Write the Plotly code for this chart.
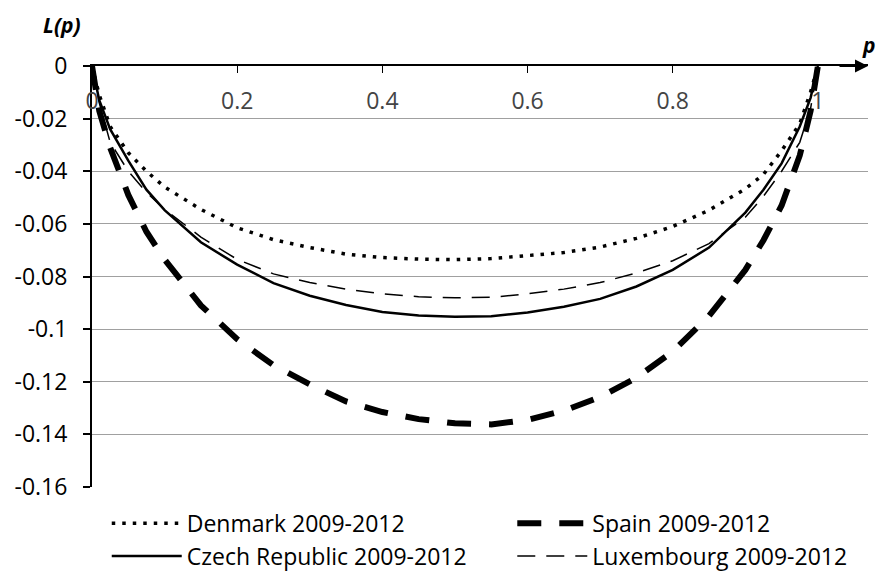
import plotly.graph_objects as go

p = [0, 0.01, 0.025, 0.05, 0.075, 0.1, 0.15, 0.2, 0.25, 0.3, 0.35, 0.4, 0.45, 0.5,
     0.55, 0.6, 0.65, 0.7, 0.75, 0.8, 0.85, 0.9, 0.925, 0.95, 0.975, 0.99, 1]

denmark = [0, -0.011, -0.023, -0.033, -0.040, -0.046, -0.0545, -0.0615, -0.066, -0.069,
           -0.0715, -0.0728, -0.0734, -0.0736, -0.0732, -0.0722, -0.0709, -0.0688, -0.0655,
           -0.061, -0.0548, -0.0467, -0.0412, -0.0322, -0.022, -0.0098, 0]
spain = [0, -0.017, -0.031, -0.049, -0.063, -0.0735, -0.091, -0.1038, -0.1137, -0.121,
         -0.1275, -0.1315, -0.1342, -0.1358, -0.1362, -0.1345, -0.131, -0.1258, -0.1185,
         -0.1085, -0.095, -0.0775, -0.0662, -0.053, -0.034, -0.017, 0]
czech = [0, -0.013, -0.024, -0.036, -0.047, -0.0548, -0.067, -0.0755, -0.0825, -0.0873,
         -0.0908, -0.0935, -0.0948, -0.0953, -0.0951, -0.0937, -0.0915, -0.0885, -0.0838,
         -0.0775, -0.069, -0.0557, -0.047, -0.037, -0.023, -0.012, 0]
luxembourg = [0, -0.014, -0.029, -0.040, -0.048, -0.0545, -0.065, -0.0735, -0.079, -0.0823,
              -0.0848, -0.0866, -0.0877, -0.0881, -0.0879, -0.0866, -0.0848, -0.0823, -0.0787,
              -0.074, -0.0675, -0.0575, -0.0495, -0.040, -0.029, -0.016, 0]

series_names = ["Denmark 2009-2012", "Spain 2009-2012", "Czech Republic 2009-2012",
                "Luxembourg 2009-2012"]

x_tickvals = [0, 0.2, 0.4, 0.6, 0.8, 1]
x_ticktext = ["0", "0.2", "0.4", "0.6", "0.8", "1"]
y_tickvals = [-0.16, -0.14, -0.12, -0.1, -0.08, -0.06, -0.04, -0.02, 0]
y_ticktext = ["-0.16", "-0.14", "-0.12", "-0.1", "-0.08", "-0.06", "-0.04", "-0.02", "0"]

FONT = "Open Sans"
FS = 23

fig = go.Figure()
fig.add_trace(go.Scatter(x=p, y=denmark, mode="lines", name=series_names[0], legend="legend",
                         line=dict(color="black", width=3.5, dash="3.5px,7px")))
fig.add_trace(go.Scatter(x=p, y=spain, mode="lines", name=series_names[1], legend="legend2",
                         line=dict(color="black", width=6, dash="24px,18px")))
fig.add_trace(go.Scatter(x=p, y=czech, mode="lines", name=series_names[2], legend="legend",
                         line=dict(color="black", width=2.5)))
fig.add_trace(go.Scatter(x=p, y=luxembourg, mode="lines", name=series_names[3], legend="legend2",
                         line=dict(color="black", width=1.5, dash="18px,11px")))

legend_common = dict(orientation="v", xanchor="left", yanchor="top", y=-0.035,
                     font=dict(size=FS, family=FONT), bgcolor="rgba(0,0,0,0)",
                     itemwidth=70)

fig.update_layout(
    width=879, height=575,
    margin=dict(l=92, r=11, t=66, b=88, autoexpand=False),
    paper_bgcolor="white", plot_bgcolor="white",
    font=dict(family=FONT, size=FS, color="black"),
    xaxis=dict(range=[0, 1.069], side="top", tickvals=x_tickvals, ticktext=x_ticktext,
               showgrid=False, zeroline=False, showline=True, linecolor="black",
               linewidth=2, ticks="inside", ticklen=7, tickcolor="black", tickwidth=1,
               ticklabelposition="inside", ticklabelstandoff=22, ticklabeloverflow="allow",
               automargin=False, tickfont=dict(size=FS, family=FONT)),
    yaxis=dict(range=[-0.16, 0], tickvals=y_tickvals, ticktext=y_ticktext,
               showgrid=True, gridcolor="#a0a0a0", gridwidth=1.3, zeroline=False,
               showline=True, linecolor="black", linewidth=2, ticks="outside",
               ticklen=7, tickcolor="black", tickwidth=1.5, ticklabelstandoff=11,
               ticklabeloverflow="allow", automargin=False,
               tickfont=dict(size=FS, family=FONT)),
    legend=dict(x=0.019, **legend_common),
    legend2=dict(x=0.5416, **legend_common),
    showlegend=True,
)

# axis arrows
fig.add_annotation(x=1.069, y=0, xref="x", yref="y", ax=-30, ay=0, text="",
                   showarrow=True, arrowhead=2, arrowsize=1.3, arrowwidth=2,
                   arrowcolor="black")
fig.add_annotation(x=0, y=0.0145, xref="x", yref="y", ax=0, ay=38, text="",
                   showarrow=True, arrowhead=2, arrowsize=1.3, arrowwidth=2,
                   arrowcolor="black")

# axis titles
fig.add_annotation(x=-0.0387, y=1.097, xref="paper", yref="paper", text="<b><i>L(p)</i></b>",
                   showarrow=False, font=dict(size=21, family=FONT), xanchor="center",
                   yanchor="middle")
fig.add_annotation(x=1.0129, y=1.05, xref="paper", yref="paper", text="<b><i>p</i></b>",
                   showarrow=False, font=dict(size=21, family=FONT), xanchor="right",
                   yanchor="middle")

fig.write_html("out.html", config={"displayModeBar": False},
               post_script="document.body.style.margin='0';document.body.style.overflow='hidden';")
